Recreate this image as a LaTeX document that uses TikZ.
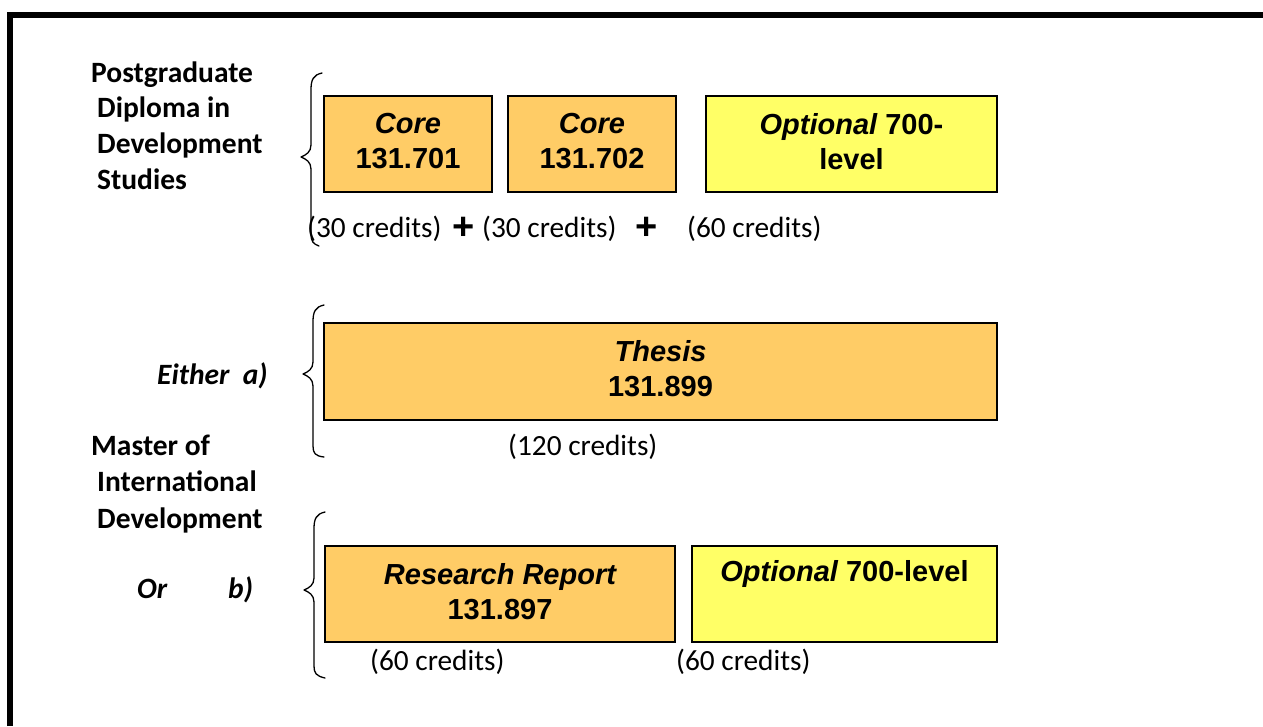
\documentclass[tikz,border=0pt]{standalone}
\usepackage{fontspec}
\setmainfont{Carlito}
\newfontfamily\arial{Liberation Sans}
\definecolor{corefill}{HTML}{FFCC66}
\definecolor{optfill}{HTML}{FFFF66}
\newcommand{\lift}{\rule[-6pt]{0pt}{0pt}}
\tikzset{
  lbl/.style={anchor=base west, inner sep=0pt, font=\fontsize{29.5}{36}\selectfont\bfseries},
  cred/.style={anchor=base west, inner sep=0pt, font=\fontsize{29.3}{36}\selectfont},
  plussign/.style={anchor=base, inner sep=0pt, font=\fontsize{38}{40}\selectfont\arial\bfseries},
  boxbase/.style={draw=black, line width=1.6pt, inner sep=0pt, align=center,
     font=\fontsize{29}{35}\selectfont\arial\bfseries},
  corebox/.style={boxbase, fill=corefill},
  optbox/.style={boxbase, fill=optfill},
  bracepath/.style={line width=1.3pt, line cap=round, line join=round}
}
\begin{document}
\begin{tikzpicture}[x=1pt,y=-1pt]
\useasboundingbox (0,0) rectangle (1263,726);
% frame
\draw[line width=6pt] (10,726) -- (10,15) -- (1263,15);

% left labels
\node[lbl] (pg1) at (91,82) {Postgraduate};
\node[lbl] (pg2) at (97,117) {Diploma in};
\node[lbl] (pg3) at (97,153) {Development};
\node[lbl] (pg4) at (97,189) {Studies};

\node[lbl, font=\fontsize{29.5}{36}\selectfont\bfseries\itshape] (eith) at (157,384) {Either\ \ a)};
\node[lbl] (mi1) at (91,455) {Master of};
\node[lbl] (mi2) at (97,491) {International};
\node[lbl] (mi3) at (97,528) {Development};
\node[lbl, font=\fontsize{29.5}{36}\selectfont\bfseries\itshape] (orl) at (137,598) {Or};
\node[lbl, font=\fontsize{29.5}{36}\selectfont\bfseries\itshape] (bl) at (228,598) {b)};

% braces
\draw[bracepath] (322,73) .. controls (313,75) and (311,80) .. (311,90) -- (311,145)
   .. controls (311,152) and (306,155) .. (301,157)
   .. controls (306,159) and (311,162) .. (311,169) -- (311,234)
   .. controls (311,241) and (313,244) .. (319,246);
\draw[bracepath] (324,305) .. controls (315,307) and (313,312) .. (313,322) -- (313,362)
   .. controls (313,369) and (308,372) .. (303,374)
   .. controls (308,376) and (313,379) .. (313,386) -- (313,446)
   .. controls (313,453) and (315,456) .. (324,457);
\draw[bracepath] (325,512) .. controls (316,514) and (314,519) .. (314,529) -- (314,578)
   .. controls (314,585) and (309,588) .. (304,590)
   .. controls (309,592) and (314,595) .. (314,602) -- (314,666)
   .. controls (314,673) and (316,676) .. (325,678);

% row 1 boxes
\node[corebox, minimum width=168, minimum height=96] (c1) at (408,144) {\itshape Core\\131.701\lift};
\node[corebox, minimum width=168, minimum height=96] (c2) at (592,144) {\itshape Core\\131.702\lift};
\node[optbox, minimum width=291, minimum height=96] (o1) at (851.5,144) {{\itshape Optional} 700-\\level\lift};

\node[cred] (cr1) at (307,237) {(30 credits)};
\node[plussign] (p1) at (464,239) {+};
\node[cred] (cr2) at (482,237) {(30 credits)};
\node[plussign] (p2) at (647,239) {+};
\node[cred] (cr3) at (687,237) {(60 credits)};

% thesis
\node[corebox, minimum width=673, minimum height=97] (th) at (660.5,371.5) {\itshape Thesis\\131.899\lift};
\node[cred] (cr4) at (508,455) {(120 credits)};

% research
\node[corebox, minimum width=350, minimum height=96] (rr) at (500,594) {\itshape Research Report\\131.897\lift};
\node[optbox, minimum width=305, minimum height=96] (o2) at (844.5,594) {{\itshape Optional} 700-level\\\strut};
\node[cred] (cr5) at (370,670) {(60 credits)};
\node[cred] (cr6) at (676,670) {(60 credits)};
\end{tikzpicture}
\end{document}
